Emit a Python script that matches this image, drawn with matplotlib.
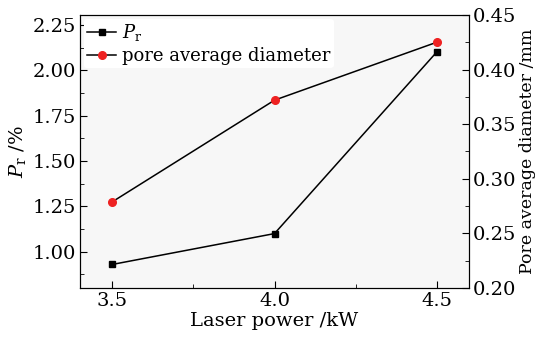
import matplotlib
matplotlib.use("Agg")
import matplotlib.pyplot as plt
from matplotlib.ticker import MultipleLocator, FormatStrFormatter

power = [3.5, 4.0, 4.5]
pr_values = [0.93, 1.10, 2.10]
pore_diameter = [0.279, 0.372, 0.425]
x_ticks = [3.5, 4.0, 4.5]

plt.rcParams['font.family'] = ['DejaVu Serif']
plt.rcParams['mathtext.fontset'] = 'dejavuserif'

fig = plt.figure(figsize=(5.49, 3.42), dpi=100)
ax = fig.add_axes([80/549, 1-288/342, (469-80)/549, (288-15)/342])
ax.set_facecolor('#f7f7f7')
ax2 = ax.twinx()

l1, = ax.plot(power, pr_values, color='black', marker='s', markersize=5, lw=1.1,
              markerfacecolor='black', label=r'$P_{\mathrm{r}}$')
l2, = ax2.plot(power, pore_diameter, color='black', marker='o', markersize=5.5, lw=1.1,
               markerfacecolor='#ee2222', markeredgecolor='#ee2222', label='pore average diameter')

ax.set_xlim(3.4, 4.6)
ax.set_ylim(0.80, 2.305)
ax2.set_ylim(0.20, 0.45)
ax.set_xticks(x_ticks)
ax.xaxis.set_minor_locator(MultipleLocator(0.25))
ax.yaxis.set_major_locator(MultipleLocator(0.25))
ax.yaxis.set_minor_locator(MultipleLocator(0.125))
ax2.yaxis.set_major_locator(MultipleLocator(0.05))
ax2.yaxis.set_minor_locator(MultipleLocator(0.025))
ax.yaxis.set_major_formatter(FormatStrFormatter('%.2f'))
ax2.yaxis.set_major_formatter(FormatStrFormatter('%.2f'))
ax.xaxis.set_major_formatter(FormatStrFormatter('%.1f'))

for a in (ax, ax2):
    a.tick_params(axis='both', which='both', direction='in', labelsize=14, pad=3)
    a.tick_params(which='major', length=5)
    a.tick_params(which='minor', length=3)
ax.tick_params(top=False, which='both')

ax.set_xlabel('Laser power /kW', fontsize=14, labelpad=1)
ax.set_ylabel(r'$P_{\mathrm{r}}$ /%', fontsize=14, labelpad=3)
ax2.set_ylabel('Pore average diameter /mm', fontsize=12.5, labelpad=2)

leg = ax.legend(handles=[l1, l2], loc='upper left', frameon=True, fontsize=13,
                handlelength=1.6, handletextpad=0.3, borderaxespad=0.2,
                labelspacing=0.2, borderpad=0.2)
leg.get_frame().set_facecolor('white')
leg.get_frame().set_edgecolor('none')
leg.get_frame().set_alpha(1)

fig.savefig('out.png', dpi=100)
